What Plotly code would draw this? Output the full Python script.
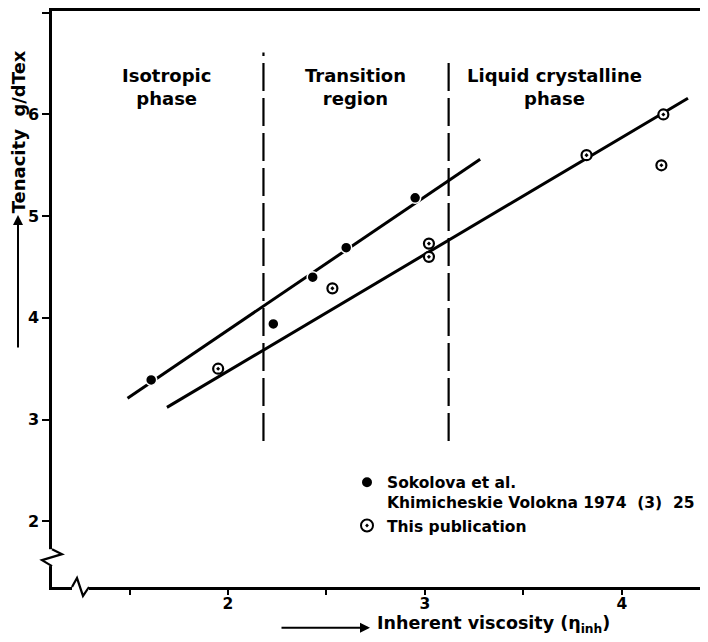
import plotly.graph_objects as go

FONT = "DejaVu Sans"

# ---- data ----
sokolova_x = [1.61, 2.23, 2.43, 2.60, 2.95]
sokolova_y = [3.39, 3.94, 4.40, 4.69, 5.18]

this_pub_x = [1.95, 2.53, 3.02, 3.02, 3.82, 4.20, 4.21]
this_pub_y = [3.50, 4.29, 4.73, 4.60, 5.60, 5.50, 6.00]

upper_fit_x = [1.49, 3.28]
upper_fit_y = [3.21, 5.56]
lower_fit_x = [1.69, 4.335]
lower_fit_y = [3.12, 6.16]

boundary_x = [2.18, 3.12]
boundary_top = [6.61, 6.56]
boundary_bottom = [2.79, 2.79]

phase_labels = ["Isotropic<br>phase", "Transition<br>region", "Liquid crystalline<br>phase"]

x_tickvals = [1.5, 2, 2.5, 3, 3.5, 4]
x_ticktext = ["", "2", "", "3", "", "4"]
y_tickvals = [2, 3, 4, 5, 6, 7]
y_ticktext = ["2", "3", "4", "5", "6", "7"]

# ---- layout geometry (pixels); the page body adds an 8px margin all round ----
OFF = 8
W, H = 692, 626
ML, MR, MT, MB = 44, 0, 0, 47
PW, PH = W - ML - MR, H - MT - MB


def px(x):
    """reference-image pixel x -> paper x"""
    return (x - OFF - ML) / PW


def py(y):
    """reference-image pixel y -> paper y"""
    return (H - MB - (y - OFF)) / PH


fig = go.Figure()

# phase boundaries (dashed)
for bx, bt, bb in zip(boundary_x, boundary_top, boundary_bottom):
    fig.add_trace(go.Scatter(x=[bx, bx], y=[bb, bt], mode="lines",
                             line=dict(color="black", width=2.2, dash="28px,7px"),
                             showlegend=False, hoverinfo="skip"))

# fit lines
fig.add_trace(go.Scatter(x=upper_fit_x, y=upper_fit_y, mode="lines",
                         line=dict(color="black", width=3), showlegend=False, hoverinfo="skip"))
fig.add_trace(go.Scatter(x=lower_fit_x, y=lower_fit_y, mode="lines",
                         line=dict(color="black", width=3), showlegend=False, hoverinfo="skip"))

# data points
fig.add_trace(go.Scatter(x=sokolova_x, y=sokolova_y, mode="markers",
                         name="Sokolova et al.<br>Khimicheskie Volokna 1974  (3)  25",
                         marker=dict(symbol="circle", size=11, color="black",
                                     line=dict(color="white", width=1.5))))
fig.add_trace(go.Scatter(x=this_pub_x, y=this_pub_y, mode="markers",
                         name="This publication",
                         marker=dict(symbol="circle-dot", size=10, color="white",
                                     line=dict(color="black", width=2.2))))

label_font = dict(family=FONT, size=18, color="black", weight="bold")
label_x_px = [166, 355, 554]
annotations = []
for t, xp in zip(phase_labels, label_x_px):
    annotations.append(dict(x=px(xp), y=py(84), xref="paper", yref="paper", text=t,
                            xanchor="center", yanchor="middle",
                            showarrow=False, align="center", font=label_font))

# y axis title with arrow
annotations.append(dict(x=px(18), y=py(130), xref="paper", yref="paper",
                        xanchor="center", yanchor="middle",
                        text="Tenacity  g/dTex", textangle=-90, showarrow=False,
                        font=dict(family=FONT, size=18, color="black", weight="bold")))
annotations.append(dict(x=px(18), y=py(213), xref="paper", yref="paper", text="",
                        showarrow=True, ax=0, ay=134, arrowhead=2, arrowsize=1,
                        arrowwidth=2, arrowcolor="black"))
# x axis title with arrow
annotations.append(dict(x=px(376), y=py(625), xref="paper", yref="paper",
                        xanchor="left", yanchor="middle", borderpad=0,
                        text="Inherent viscosity (η<sub>inh</sub>)", showarrow=False,
                        font=dict(family=FONT, size=17.5, color="black", weight="bold")))
annotations.append(dict(x=px(370), y=py(628), xref="paper", yref="paper", text="",
                        showarrow=True, ax=-90, ay=0, arrowhead=2, arrowsize=1,
                        arrowwidth=2, arrowcolor="black"))

# axis breaks
shapes = [
    dict(type="rect", xref="paper", yref="paper", x0=px(47), x1=px(57), y0=py(566), y1=py(549),
         fillcolor="white", line=dict(width=0), layer="above"),
    dict(type="path", xref="paper", yref="paper",
         path=f"M {px(52)} {py(549)} L {px(62)} {py(554)} L {px(42)} {py(560)} L {px(52)} {py(566)}",
         line=dict(color="black", width=2.2), layer="above"),
    dict(type="rect", xref="paper", yref="paper", x0=px(72), x1=px(89), y0=py(591), y1=py(583),
         fillcolor="white", line=dict(width=0), layer="above"),
    dict(type="path", xref="paper", yref="paper",
         path=f"M {px(72)} {py(587)} L {px(77)} {py(578)} L {px(83)} {py(596)} L {px(89)} {py(587)}",
         line=dict(color="black", width=2.2), layer="above"),
]

tickfont = dict(family=FONT, size=16, color="black", weight="bold")

fig.update_layout(
    width=W, height=H,
    margin=dict(l=ML, r=MR, t=MT, b=MB),
    paper_bgcolor="white", plot_bgcolor="white",
    font=dict(family=FONT, color="black"),
    xaxis=dict(range=[1.1066, 4.396], showline=True, linecolor="black", linewidth=2.5,
               mirror=True, showgrid=False, zeroline=False, ticks="outside", ticklen=5,
               tickwidth=2, tickcolor="black", tickvals=x_tickvals,
               ticktext=[f"<b>{t}</b>" if t else "" for t in x_ticktext],
               tickfont=dict(family=FONT, size=15.5, color="black", weight="bold"),
               ticklabelstandoff=-4),
    yaxis=dict(range=[1.354, 7.017], showline=True, linecolor="black", linewidth=2.5,
               showgrid=False, zeroline=False, ticks="outside", ticklen=7,
               tickwidth=2, tickcolor="black", tickvals=y_tickvals,
               ticktext=[f"<b>{t}</b>" for t in y_ticktext],
               tickfont=tickfont),
    legend=dict(x=1, y=py(465), xanchor="right", yanchor="top",
                bgcolor="rgba(0,0,0,0)", valign="top", itemsizing="constant",
                font=dict(family=FONT, size=15.5, color="black", weight="bold"),
                tracegroupgap=0),
    annotations=annotations,
    shapes=shapes,
)

fig.write_html("out.html")
